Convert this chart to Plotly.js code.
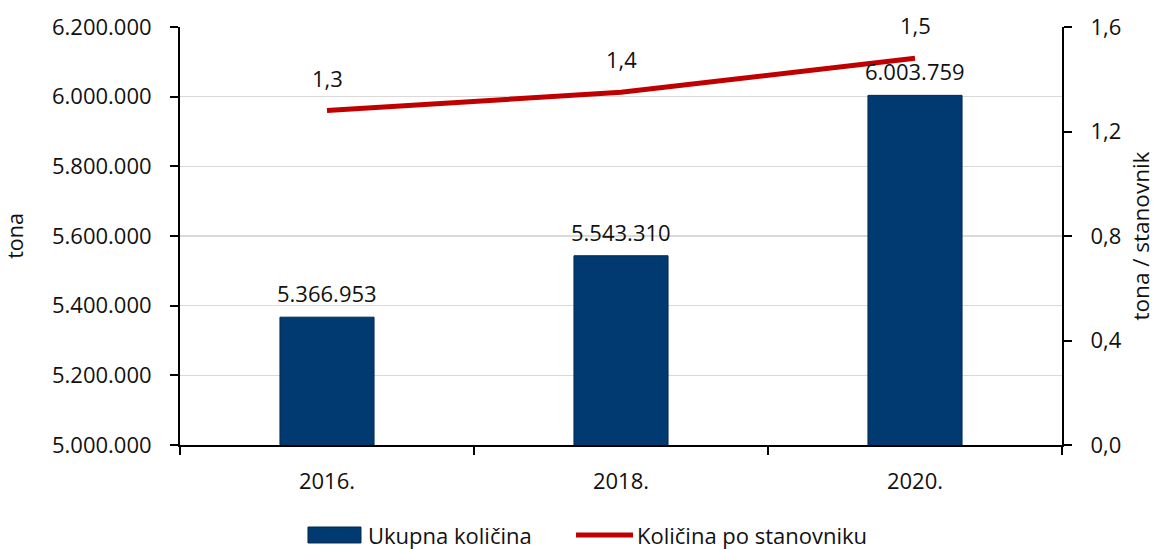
<!DOCTYPE html>
<html>
<head>
<meta charset="utf-8">
<script src="https://cdn.plot.ly/plotly-3.0.1.min.js"></script>
<style>html,body{margin:0;padding:0;background:#fff;}#chart{width:1156px;height:549px;}</style>
</head>
<body>
<div id="chart"></div>
<script>
const categories = ["2016.", "2018.", "2020."];
const totalTonnes = [5366953, 5543310, 6003759];
const perCapita = [1.28, 1.35, 1.48];
const barName = "Ukupna količina";
const lineName = "Količina po stanovniku";
const leftTitle = "tona";
const rightTitle = "tona / stanovnik";

const FONT = "Open Sans, Segoe UI, sans-serif";
const FS = 22;
const BAR_COLOR = "#003A70";
const LINE_COLOR = "#C00000";

function fmtThousands(v) {
  return String(v).replace(/\B(?=(\d{3})+(?!\d))/g, ".");
}

const traces = [
  {
    type: "bar",
    name: barName,
    x: categories,
    y: totalTonnes,
    marker: {color: BAR_COLOR, line: {color: "#002850", width: 1}},
    width: 0.32,
    yaxis: "y",
    showlegend: false,
    hoverinfo: "skip"
  },
  {
    type: "scatter",
    mode: "lines",
    name: lineName,
    x: categories,
    y: perCapita,
    line: {color: LINE_COLOR, width: 5},
    yaxis: "y2",
    showlegend: false,
    hoverinfo: "skip"
  }
];

const annotations = [];
categories.forEach((c, i) => {
  annotations.push({
    x: i, y: totalTonnes[i], xref: "x", yref: "y",
    text: fmtThousands(totalTonnes[i]),
    showarrow: false, yshift: 24,
    font: {family: FONT, size: FS, color: "#111"}
  });
  annotations.push({
    x: i, y: perCapita[i], xref: "x", yref: "y2",
    text: perCapita[i].toFixed(1).replace(".", ","),
    showarrow: false, yshift: 33,
    font: {family: FONT, size: FS, color: "#111"}
  });
});

// custom legend (paper coordinates)
annotations.push(
  {xref: "paper", yref: "paper", x: 0.2109, y: -0.2153, xanchor: "left", yanchor: "middle",
   text: barName, showarrow: false, font: {family: FONT, size: FS, color: "#111"}},
  {xref: "paper", yref: "paper", x: 0.5159, y: -0.2153, xanchor: "left", yanchor: "middle",
   text: lineName, showarrow: false, font: {family: FONT, size: FS, color: "#111"}}
);
const shapes = [
  {type: "rect", xref: "paper", yref: "paper", x0: 0.1451, x1: 0.2052, y0: -0.2344, y1: -0.1962,
   fillcolor: BAR_COLOR, line: {color: "#002850", width: 1}},
  {type: "line", xref: "paper", yref: "paper", x0: 0.449, x1: 0.5136, y0: -0.2153, y1: -0.2153,
   line: {color: LINE_COLOR, width: 5}}
];

const layout = {
  width: 1156, height: 549,
  margin: {l: 180, r: 94, t: 27, b: 104},
  paper_bgcolor: "#fff", plot_bgcolor: "#fff",
  separators: ",.",
  font: {family: FONT, size: FS, color: "#111"},
  showlegend: false,
  xaxis: {
    type: "category",
    range: [-0.5, 2.5],
    showline: true, linecolor: "#000", linewidth: 2,
    ticks: "outside", tickson: "boundaries", ticklen: 8, tickcolor: "#000", tickwidth: 2,
    ticklabelstandoff: 16,
    tickfont: {family: FONT, size: FS, color: "#111"},
    showgrid: false, zeroline: false
  },
  yaxis: {
    range: [5000000, 6200000], dtick: 200000, tickformat: ",d",
    showline: true, linecolor: "#000", linewidth: 2,
    ticks: "outside", ticklen: 8, tickcolor: "#000", tickwidth: 2,
    ticklabelstandoff: 14,
    showgrid: true, gridcolor: "#d9d9d9", gridwidth: 1.5, zeroline: false,
    tickfont: {family: FONT, size: FS, color: "#111"},
    title: {text: leftTitle, font: {family: FONT, size: FS - 0.5, color: "#111"}, standoff: 34}
  },
  yaxis2: {
    overlaying: "y", side: "right",
    range: [0, 1.6], dtick: 0.4, tickformat: ".1f",
    showline: true, linecolor: "#000", linewidth: 2,
    ticks: "outside", ticklen: 8, tickcolor: "#000", tickwidth: 2,
    ticklabelstandoff: 14,
    showgrid: false, zeroline: false,
    tickfont: {family: FONT, size: FS, color: "#111"},
    title: {text: rightTitle, font: {family: FONT, size: FS + 0.5, color: "#111"}, standoff: 20}
  },
  annotations: annotations,
  shapes: shapes
};

Plotly.newPlot("chart", traces, layout, {displayModeBar: false, staticPlot: true});
</script>
</body>
</html>
